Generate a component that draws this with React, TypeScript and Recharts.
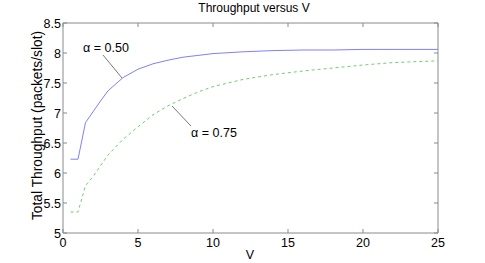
import React from 'react';
import { LineChart, Line, XAxis, YAxis, ReferenceLine } from 'recharts';

const vValues = [0.5, 1, 1.5, 2, 2.5, 3, 4, 5, 6, 7, 8, 9, 10, 12, 14, 16, 18, 20, 22, 25];
const alpha050 = [6.23, 6.23, 6.84, 7.02, 7.2, 7.37, 7.59, 7.73, 7.82, 7.88, 7.93, 7.96, 7.99, 8.02, 8.04, 8.05, 8.05, 8.06, 8.06, 8.06];
const alpha075 = [5.35, 5.35, 5.79, 5.94, 6.12, 6.3, 6.56, 6.77, 6.97, 7.12, 7.24, 7.35, 7.44, 7.56, 7.64, 7.7, 7.75, 7.8, 7.84, 7.87];
const xTicks = [0, 5, 10, 15, 20, 25];
const yTicks = [5, 5.5, 6, 6.5, 7, 7.5, 8, 8.5];
const yTickLabels = ['5', '5.5', '6', '6.5', '7', '7.5', '8', '8.5'];

const data = vValues.map((v, i) => ({ v, a50: alpha050[i], a75: alpha075[i] }));

const W = 485;
const H = 263;
const PLOT_LEFT = 63;
const PLOT_RIGHT = 438;
const PLOT_TOP = 23;
const PLOT_BOTTOM = 233;
const AXIS_COLOR = '#8a8a8a';
const FONT = 'Liberation Sans, Arial, sans-serif';

const XTick = (props: any) => {
  const { x, payload } = props;
  return (
    <g>
      <line x1={x} y1={PLOT_BOTTOM} x2={x} y2={PLOT_BOTTOM - 4} stroke={AXIS_COLOR} />
      <line x1={x} y1={PLOT_TOP} x2={x} y2={PLOT_TOP + 4} stroke={AXIS_COLOR} />
      <text x={x} y={PLOT_BOTTOM + 14} textAnchor="middle" fontSize={12.5} fontFamily={FONT} fill="#000">
        {payload.value}
      </text>
    </g>
  );
};

const YTick = (props: any) => {
  const { y, payload, index } = props;
  return (
    <g>
      <line x1={PLOT_LEFT} y1={y} x2={PLOT_LEFT + 4} y2={y} stroke={AXIS_COLOR} />
      <line x1={PLOT_RIGHT} y1={y} x2={PLOT_RIGHT - 4} y2={y} stroke={AXIS_COLOR} />
      <text x={PLOT_LEFT - 2} y={y + 4.5} textAnchor="end" fontSize={12.5} fontFamily={FONT} fill="#000">
        {yTickLabels[index] ?? payload.value}
      </text>
    </g>
  );
};

export default function App() {
  return (
    <div style={{ position: 'absolute', left: 0, top: 0, width: W, height: H, background: '#fff' }}>
      <LineChart
        width={W}
        height={H}
        data={data}
        margin={{ top: PLOT_TOP, right: W - PLOT_RIGHT, bottom: 0, left: PLOT_LEFT - 30 }}
      >
        <XAxis
          dataKey="v"
          type="number"
          domain={[0, 25]}
          ticks={xTicks}
          height={H - PLOT_BOTTOM}
          tickLine={false}
          tick={<XTick />}
          stroke={AXIS_COLOR}
          interval={0}
          allowDataOverflow
        />
        <YAxis
          type="number"
          domain={[5, 8.5]}
          ticks={yTicks}
          width={30}
          tickLine={false}
          tick={<YTick />}
          stroke={AXIS_COLOR}
          interval={0}
          allowDataOverflow
        />
        <ReferenceLine y={8.5} stroke={AXIS_COLOR} ifOverflow="extendDomain" />
        <ReferenceLine x={25} stroke={AXIS_COLOR} ifOverflow="extendDomain" />
        <Line
          dataKey="a50"
          stroke="#7f7fff"
          strokeWidth={1}
          dot={false}
          isAnimationActive={false}
          type="linear"
        />
        <Line
          dataKey="a75"
          stroke="#6fcf6f"
          strokeWidth={1}
          strokeDasharray="3 3"
          dot={false}
          isAnimationActive={false}
          type="linear"
        />
        <text x={254} y={12} textAnchor="middle" fontSize={12} fontFamily={FONT} fill="#000">
          Throughput versus V
        </text>
        <text x={250} y={259} textAnchor="middle" fontSize={12.5} fontFamily={FONT} fill="#000">
          V
        </text>
        <text
          x={42}
          y={125.5}
          transform="rotate(-90 42 125.5)"
          textAnchor="middle"
          fontSize={13.8}
          fontFamily={FONT}
          fill="#000"
        >
          Total Throughput (packets/slot)
        </text>
        <line x1={103} y1={55} x2={122} y2={78} stroke="#555" strokeWidth={0.8} />
        <text x={106} y={52} textAnchor="middle" fontSize={12.5} fontFamily={FONT} fill="#000">
          α = 0.50
        </text>
        <line x1={172} y1={106} x2={191} y2={126} stroke="#555" strokeWidth={0.8} />
        <text x={214} y={137} textAnchor="middle" fontSize={12.5} fontFamily={FONT} fill="#000">
          α = 0.75
        </text>
      </LineChart>
    </div>
  );
}
